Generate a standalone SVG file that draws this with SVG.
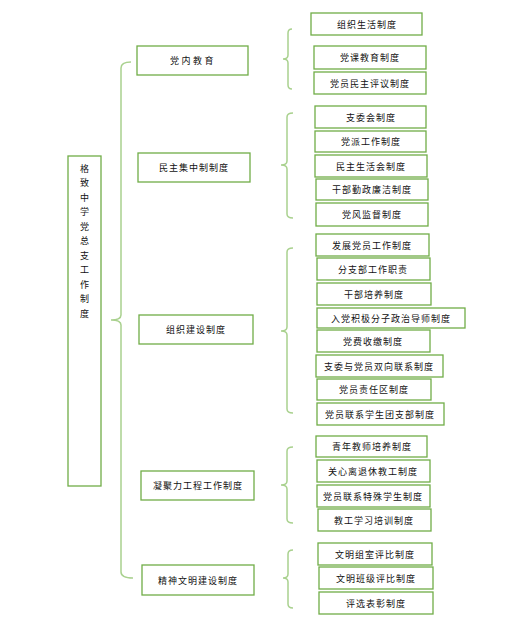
<svg xmlns="http://www.w3.org/2000/svg" width="518" height="624" viewBox="0 0 518 624">
<style>
.box{fill:#fff;stroke:#70AD47;stroke-width:1.3}
.br{fill:none;stroke:#A9D18E;stroke-width:1.5}
text{font-family:"Noto Sans CJK SC","Noto Sans CJK JP",sans-serif;font-size:9px;fill:#111;text-anchor:middle;dominant-baseline:central;letter-spacing:1px}
</style>
<rect width="518" height="624" fill="#fff"/>
<g id="connectors">
<path class="br" d="M131,62 Q121,62 121,68 V315 Q121,320 111,320 Q121,320 121,325 V572 Q121,578 133,578"/>
<path class="br" d="M292,29 Q288,29 288,33 V55 Q288,59 283,59 Q288,59 288,63 V85 Q288,89 292,89"/>
<path class="br" d="M293,113 Q287,113 287,117 V161 Q287,165 281,165 Q287,165 287,169 V214 Q287,218 293,218"/>
<path class="br" d="M293,248 Q287,248 287,252 V327 Q287,331 281,331 Q287,331 287,335 V409 Q287,413 293,413"/>
<path class="br" d="M293,447 Q287,447 287,451 V481 Q287,485 281,485 Q287,485 287,489 V519 Q287,523 293,523"/>
<path class="br" d="M293,550 Q288,550 288,554 V574 Q288,578 283,578 Q288,578 288,582 V604 Q288,608 293,608"/>
</g>
<g id="root"><rect class="box" x="68" y="156" width="33" height="330"/>
<text x="85" y="168">格</text><text x="85" y="182.5">致</text><text x="85" y="197">中</text><text x="85" y="211.5">学</text><text x="85" y="226">党</text><text x="85" y="240.5">总</text><text x="85" y="255">支</text><text x="85" y="269.5">工</text><text x="85" y="284">作</text><text x="85" y="298.5">制</text><text x="85" y="313">度</text></g>
<g id="n1"><rect class="box" x="137" y="46" width="111" height="29"/><text x="193" y="60.5" style="letter-spacing:2.5px">党内教育</text></g>
<g id="n2"><rect class="box" x="138" y="153" width="112" height="29"/><text x="194" y="167.5">民主集中制制度</text></g>
<g id="n3"><rect class="box" x="139" y="315" width="114" height="29"/><text x="196" y="329.5">组织建设制度</text></g>
<g id="n4"><rect class="box" x="141" y="471" width="113" height="29"/><text x="198" y="485.5">凝聚力工程工作制度</text></g>
<g id="n5"><rect class="box" x="142" y="565" width="112" height="30"/><text x="198" y="580">精神文明建设制度</text></g>

<g id="a1"><rect class="box" x="311" y="13" width="111" height="22"/><text x="367" y="24">组织生活制度</text></g>
<g id="a2"><rect class="box" x="314" y="46" width="112" height="23"/><text x="370" y="57.5">党课教育制度</text></g>
<g id="a3"><rect class="box" x="314" y="72" width="112" height="22"/><text x="370" y="83">党员民主评议制度</text></g>

<g id="b1"><rect class="box" x="315" y="106" width="111" height="22"/><text x="371" y="117">支委会制度</text></g>
<g id="b2"><rect class="box" x="315" y="131" width="111" height="21"/><text x="371" y="141.5">党派工作制度</text></g>
<g id="b3"><rect class="box" x="315" y="155" width="112" height="22"/><text x="371" y="166">民主生活会制度</text></g>
<g id="b4"><rect class="box" x="316" y="179" width="112" height="21"/><text x="372" y="189.5">干部勤政廉洁制度</text></g>
<g id="b5"><rect class="box" x="316" y="203" width="112" height="23"/><text x="372" y="214.5">党风监督制度</text></g>

<g id="c1"><rect class="box" x="316" y="234" width="113" height="22"/><text x="372" y="245">发展党员工作制度</text></g>
<g id="c2"><rect class="box" x="317" y="258" width="113" height="22"/><text x="373" y="269">分支部工作职责</text></g>
<g id="c3"><rect class="box" x="317" y="283" width="114" height="22"/><text x="374" y="294">干部培养制度</text></g>
<g id="c4"><rect class="box" x="317" y="308" width="148" height="20"/><text x="391" y="318">入党积极分子政治导师制度</text></g>
<g id="c5"><rect class="box" x="317" y="330" width="113" height="22"/><text x="373" y="341">党费收缴制度</text></g>
<g id="c6"><rect class="box" x="316" y="355" width="127" height="22"/><text x="379" y="366">支委与党员双向联系制度</text></g>
<g id="c7"><rect class="box" x="317" y="379" width="114" height="21"/><text x="374" y="389.5">党员责任区制度</text></g>
<g id="c8"><rect class="box" x="317" y="403" width="127" height="22"/><text x="380" y="414">党员联系学生团支部制度</text></g>

<g id="d1"><rect class="box" x="316" y="436" width="111" height="21"/><text x="372" y="446.5">青年教师培养制度</text></g>
<g id="d2"><rect class="box" x="317" y="460" width="113" height="22"/><text x="373" y="471">关心离退休教工制度</text></g>
<g id="d3"><rect class="box" x="317" y="485" width="113" height="22"/><text x="373" y="496">党员联系特殊学生制度</text></g>
<g id="d4"><rect class="box" x="318" y="509" width="113" height="22"/><text x="374" y="520">教工学习培训制度</text></g>

<g id="e1"><rect class="box" x="318" y="543" width="114" height="22"/><text x="375" y="554">文明组室评比制度</text></g>
<g id="e2"><rect class="box" x="319" y="567" width="114" height="22"/><text x="376" y="578">文明班级评比制度</text></g>
<g id="e3"><rect class="box" x="319" y="592" width="114" height="22"/><text x="376" y="603">评选表彰制度</text></g>
</svg>
